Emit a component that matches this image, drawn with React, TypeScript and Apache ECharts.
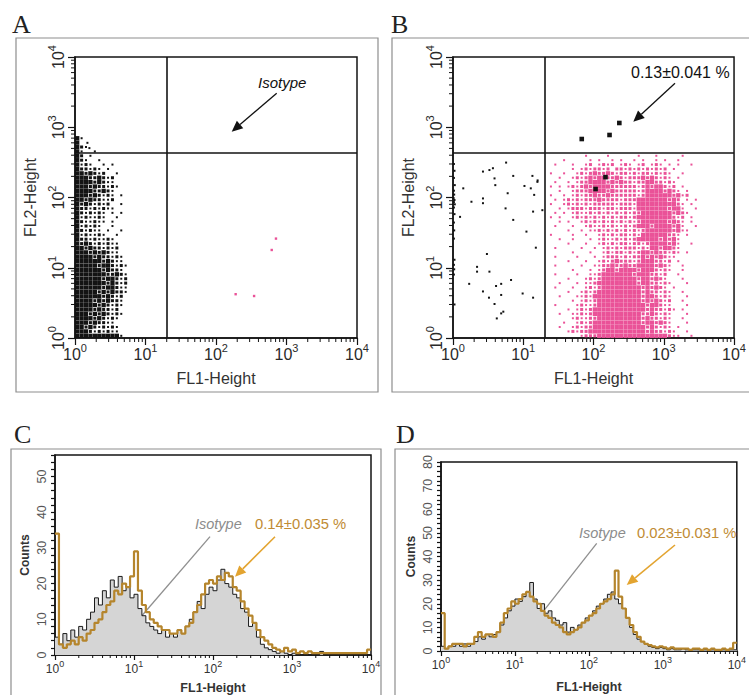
import { useEffect, useRef } from "react";
import * as echarts from "echarts";

// ---------- data ----------

const LOG_MINOR = [
  2, 3, 4, 5, 6, 7, 8, 9, 20, 30, 40, 50, 60, 70, 80, 90, 200, 300, 400, 500,
  600, 700, 800, 900, 2000, 3000, 4000, 5000, 6000, 7000, 8000, 9000,
];

// gates used in A and B (FL1, FL2)
const GATE_FL1 = 20;
const GATE_FL2 = 430;

// density maps, one char per cell of 1/16 decade: ' ' none, '.' sparse, '+' medium, '#' dense
// A: columns from log10 FL1 = 0, rows from log10 FL2 = 2.875 downwards
const A_CLOUD = [
  "#.          ",
  "#           ",
  "#+.         ",
  "#.  .       ",
  "#+ .        ",
  "#+.  .      ",
  "#.+.  . .   ",
  "#++.+. .    ",
  "##+#+.+  .  ",
  "###++#+.+   ",
  "####+#+..   ",
  "###+#++.+.  ",
  "####++#+.   ",
  "###+#+.+. . ",
  "##+#++..+   ",
  "#+#+.+.+  . ",
  "#++.+.+..   ",
  "#+.+.+. . . ",
  "#.+..+.  .  ",
  "#+..+.. .   ",
  "#.+.+.  .   ",
  "#+.+.. .  . ",
  "#.+..+.  .  ",
  "#++.+..+.   ",
  "#+#+.+.+..  ",
  "##+#++.+.+  ",
  "###+#+#+..  ",
  "####+#++.+. ",
  "######+#+.. ",
  "#####+##+.+.",
  "######+#++. ",
  "#######++#+.",
  "######+##+.+",
  "#######+#+.+",
  "######+##+..",
  "#####+#+#++.",
  "######+#+.+ ",
  "####+#+#++. ",
  "#####+#+.+. ",
  "####+#++.+  ",
  "###+#+#+.+. ",
  "####+#+.+.  ",
  "###+#++..   ",
  "##+#+.+.+.  ",
  "###+.+.+..  ",
  "##########. ",
];

// B: columns from log10 FL1 = 1.3, rows from log10 FL2 = 2.625 downwards
const B_CLOUD = [
  "         .    .      .   .     .    ",
  "    .     . .  . .  . .  . .  .     ",
  "  .   .  .+ .+.+ .+. .+ .+. . .  .  ",
  "      . .+.++.+ ++.+.+.+.+.+ .      ",
  " .  .  .+.+#++#+.++.+.++.+.+.  .    ",
  "   .  .+.+#+##++#+.+++#+#+.+. .     ",
  "  .  . .++####+#+#++.++##++.+.      ",
  " . . .+.+#+####++++++.+#+##+.+ .    ",
  "   .  .+++####+#+++++.+####+#+. .   ",
  " .  . .+.++#++#++++++.+######+#.+   ",
  "  . .+.+.+++#++++.+++#######+#+ . . ",
  " .  .+.+.+.+++++.+++.#########+. .  ",
  "   . .+++.+++.++.+++.#######+##.  . ",
  "  . . .+..+.+.+.+.+.++#######+#+.   ",
  " . .  .+.+.+.+.+.++.+########+.+ .  ",
  "   . .  .+.+.+.+.+.+.+######+#+. .  ",
  "  .   .  .+..+.+..+.+###+####+#.  . ",
  "     .  . ..+.+.+.+.+.+######+#..   ",
  " .    .  .  .+.+.++.+.######++. .   ",
  "   .  .   . .+..+.+.+#####+#+#.     ",
  "     .   .  .+.+.++.++.+####+#.  .  ",
  "  .     .  . .+.+.+++.+.##+##+.     ",
  "      .   .  .+.++.+.+##+#++.+. .   ",
  "  .    .   . .+++.+.++#+#+#+..      ",
  "     .   .  .+.+#+++.+###++.+ .     ",
  "  .     .  ..++#++#++####+#+.  .    ",
  "      .   . .+##+####+###+.+.  .    ",
  "  .    .  ..+#######+###++.+  .     ",
  "     .   .+.+########+##+#+.   .    ",
  "   .   . ..+#########+##++.+.   .   ",
  "  .   .  .+.+#########+#+#+. .      ",
  "     .  .+.+##########+#++.+.  .    ",
  "   .   ..+.###########+##+.+.   .   ",
  "      . .+.+##########+#+#+.+  .    ",
  "  .    .+..+###########+##+..   .   ",
  "     . .+.+############+#++.+. .    ",
  "   .  ..+.+###########++#+.+.   .   ",
  "      .+..++##########+#++.+.  .    ",
  "    .  .+.+###########+##+#+.   .   ",
  "   .  .+.++############+#+.+. .     ",
  "     .+.++#############+#++.+.  .   ",
  "        .+++################+..  .  ",
];

const A_UPPER_EVENTS = [[1.5, 600], [1.6, 505]];
const A_PINK_EVENTS = [[709, 26], [617, 17.9], [190, 4.2], [347, 3.96]];

const B_LOW_EVENTS = [
  [1.4, 135], [1.83, 87], [2.67, 234], [2.67, 97], [2.67, 83], [3.3, 246],
  [3.7, 261], [3.9, 187], [4.0, 150], [5.7, 314], [6.0, 115], [5.6, 70],
  [7.2, 203], [7.2, 48], [10.4, 146], [12.8, 135], [13.5, 203], [14.3, 109],
  [13.8, 63], [15.9, 167], [16, 175], [18.7, 66], [15.1, 19.3], [11.1, 32.7],
  [3.04, 15.7], [2.2, 10.3], [2.2, 8.8], [3.3, 8.8], [1.7, 5.9], [2.67, 4.6],
  [3.25, 3.75], [4.1, 5.5], [4.85, 5.9], [4.85, 4.1], [6.7, 6.7], [9.8, 4.3],
  [13.8, 3.75], [3.9, 3.05], [4.85, 2.24], [5.2, 2.37], [4.2, 1.9], [1.26, 53],
  [1.03, 300], [1.05, 240], [1.03, 190], [1.06, 150], [1.03, 125], [1.04, 110],
  [1.02, 98], [1.05, 92], [1.03, 86], [1.06, 80], [1.03, 72], [1.05, 58],
  [1.03, 44], [1.04, 34], [1.03, 26], [1.05, 13], [1.03, 11], [1.04, 9.5],
  [1.03, 8], [1.05, 3],
];
const B_GATED_EVENTS = [[68, 680], [169, 776], [233, 1150], [107, 132], [148, 195]];

// histograms, bins of 0.05 decade starting at 10^0
const C_ISOTYPE = [
  5, 3, 6, 4, 7, 5, 8, 7, 10, 12,
  16, 14, 18, 16, 21, 19, 22, 18, 19, 16,
  17, 13, 11, 9, 8, 7, 6, 7, 5, 6,
  5, 7, 6, 8, 10, 12, 15, 13, 17, 19,
  18, 21, 24, 20, 19, 17, 16, 13, 12, 8,
  9, 5, 3, 2, 1.5, 1, 0.5, 1, 0.5, 0,
  0.5, 0, 0, 0, 0, 0, 0, 1, 0, 0,
  0, 0, 0, 0, 0, 0, 0, 0, 0, 0,
];
const C_SAMPLE = [
  34, 3, 2, 3, 4, 3, 5, 4, 6, 7,
  9, 10, 12, 14, 15, 18, 17, 20, 19, 22,
  29, 18, 14, 12, 10, 9, 8, 7, 7, 6,
  6, 7, 6, 8, 9, 12, 14, 17, 20, 21,
  20, 22, 21, 23, 22, 19, 18, 15, 13, 11,
  9, 7, 5, 4, 3, 2, 1.5, 1, 2, 1,
  1.5, 0.5, 1, 0.5, 1, 0.5, 0.5, 0.5, 0.5, 0.5,
  0.5, 0.5, 0.5, 0.5, 0.5, 0.5, 0.5, 0.5, 0.5, 1.5,
];
const D_ISOTYPE = [
  2, 1, 2, 2, 3, 2, 3, 2, 3, 4,
  6, 5, 7, 6, 7, 8, 11, 14, 17, 19,
  22, 21, 23, 25, 29, 22, 18, 20, 16, 17,
  14, 13, 11, 12, 8, 10, 9, 11, 12, 14,
  15, 17, 19, 20, 22, 24, 25, 22, 20, 18,
  14, 10, 7, 5, 4, 3, 2, 1.5, 1, 1.5,
  1, 0.5, 1, 0.5, 0.5, 1, 0.5, 0.5, 0.5, 0.5,
  0.5, 0.5, 0.5, 0.5, 0.5, 0.5, 0.5, 0.5, 0.5, 0.5,
];
const D_SAMPLE = [
  16, 1, 2, 3, 3, 3, 2, 3, 3, 6,
  8, 6, 7, 7, 6, 8, 12, 16, 18, 21,
  20, 22, 24, 25, 23, 21, 20, 17, 15, 14,
  12, 11, 10, 8, 7, 8, 9, 10, 12, 13,
  15, 16, 18, 20, 21, 22, 24, 34, 23, 18,
  14, 11, 8, 6, 4, 3, 2.5, 2, 1.5, 2,
  1.5, 1, 1.5, 1, 1, 1, 1, 0.5, 1, 1,
  0.5, 1, 0.5, 1, 0.5, 0.5, 1, 0.5, 1, 3.5,
];
const HIST_STEP = 0.05;

// ---------- styling ----------

const FONT = "'Liberation Sans', Arial, Helvetica, sans-serif";
const INK = "#131313";
const PINK = "#ea5298";
const GOLD_LINE = "#b5852c";
const GOLD_TEXT = "#c08b34";
const GOLD_ARROW = "#e3a430";
const GREY_TEXT = "#8c8c8c";
const CELL_SIZE: Record<string, number> = { ".": 2.0, "+": 3.0, "#": 4.3 };

function cloudPoints(rows: string[], x0: number, y0: number, step: number) {
  const pts: number[][] = [];
  rows.forEach((row, r) => {
    for (let c = 0; c < row.length; c++) {
      const ch = row[c];
      if (!CELL_SIZE[ch]) continue;
      pts.push([10 ** (x0 + step * (c + 0.5)), 10 ** (y0 - step * (r + 0.5)), CELL_SIZE[ch]]);
    }
  });
  return pts;
}

function histData(counts: number[]) {
  const d = counts.map((c, k) => [10 ** (k * HIST_STEP), c]);
  d.push([10000, counts[counts.length - 1]]);
  return d;
}

const decadeLabel = (v: number) => `{b|10}{e|${Math.round(Math.log10(v))}}`;

function richDecade(base: number, exp: number, color: string) {
  return {
    b: { fontSize: base, fontFamily: FONT, color, lineHeight: base + 4, verticalAlign: "bottom" },
    e: { fontSize: exp, fontFamily: FONT, color, lineHeight: exp, verticalAlign: "top" },
  };
}

function logAxis(gridIndex: number, big: boolean, vertical: boolean, extra: object) {
  const color = big ? "#2a2a2a" : "#333";
  return {
    type: "log",
    logBase: 10,
    min: 1,
    max: 10000,
    gridIndex,
    axisLine: { show: true, onZero: false, lineStyle: { color: INK, width: 1.5 } },
    axisTick: { show: true, inside: false, length: big ? 7 : 5, lineStyle: { color: INK, width: 1.2 } },
    splitLine: { show: false },
    axisLabel: {
      formatter: decadeLabel,
      rich: big ? richDecade(16, 11, color) : richDecade(12, 9, color),
      rotate: vertical ? 90 : 0,
      margin: vertical ? 9 : 4,
    },
    ...extra,
  };
}

function countAxis(gridIndex: number, max: number, nameGap: number) {
  return {
    type: "value",
    min: 0,
    max,
    interval: 2,
    gridIndex,
    axisLine: { show: true, lineStyle: { color: INK, width: 1.5 } },
    axisTick: { show: true, inside: false, length: 4, lineStyle: { color: INK, width: 1.2 } },
    splitLine: { show: false },
    axisLabel: {
      rotate: 90,
      margin: 7,
      fontSize: 12.5,
      fontFamily: FONT,
      color: "#555",
      formatter: (v: number) => (v % 10 === 0 ? String(v) : ""),
    },
    name: "Counts",
    nameLocation: "middle",
    nameGap,
    nameTextStyle: { fontSize: 12, fontWeight: "bold", fontFamily: FONT, color: "#333" },
  };
}

function minorTicks(xi: number, yi: number, dir: "x" | "y", base: number, len: number) {
  return {
    type: "custom",
    xAxisIndex: xi,
    yAxisIndex: yi,
    silent: true,
    clip: false,
    z: 5,
    data: LOG_MINOR.map((v) => (dir === "x" ? [v, base] : [1, v])),
    renderItem: (_p: unknown, api: any) => {
      const p = api.coord([api.value(0), api.value(1)]);
      const shape =
        dir === "x"
          ? { x1: p[0], y1: p[1], x2: p[0], y2: p[1] + len }
          : { x1: p[0], y1: p[1], x2: p[0] - len, y2: p[1] };
      return { type: "line", shape, style: { stroke: INK, lineWidth: 1 } };
    },
  };
}

function gates() {
  return {
    silent: true,
    symbol: ["none", "none"],
    label: { show: false },
    lineStyle: { color: INK, width: 1.6, type: "solid" },
    data: [{ xAxis: GATE_FL1 }, { yAxis: GATE_FL2 }],
  };
}

function scatter(xi: number, data: number[][], color: string, size: number | ((v: number[]) => number), extra = {}) {
  return {
    type: "scatter",
    xAxisIndex: xi,
    yAxisIndex: xi,
    symbol: "rect",
    symbolSize: size,
    silent: true,
    progressive: 0,
    itemStyle: { color, opacity: 1, borderWidth: 0 },
    data,
    ...extra,
  };
}

function arrow(x1: number, y1: number, x2: number, y2: number, color: string, w: number, head: number) {
  const a = Math.atan2(y2 - y1, x2 - x1);
  const bx = x2 - head * Math.cos(a);
  const by = y2 - head * Math.sin(a);
  const hw = head * 0.45;
  return [
    { type: "line", shape: { x1, y1, x2: bx, y2: by }, style: { stroke: color, lineWidth: w } },
    {
      type: "polygon",
      shape: {
        points: [
          [x2, y2],
          [bx + hw * Math.sin(a), by - hw * Math.cos(a)],
          [bx - hw * Math.sin(a), by + hw * Math.cos(a)],
        ],
      },
      style: { fill: color },
    },
  ];
}

function label(text: string, x: number, y: number, size: number, color: string, extra = {}) {
  return {
    type: "text",
    x,
    y,
    style: { text, fontSize: size, fontFamily: FONT, fill: color, verticalAlign: "middle", ...extra },
  };
}

function panelBox(x: number, y: number, w: number, h: number) {
  return {
    type: "rect",
    shape: { x, y, width: w, height: h },
    style: { fill: "none", stroke: "#8e8e8e", lineWidth: 1.2 },
  };
}

function letter(text: string, x: number, y: number) {
  return {
    type: "text",
    x,
    y,
    style: { text, fontSize: 26, fontFamily: "'Liberation Serif', 'Times New Roman', serif", fill: "#222", verticalAlign: "middle" },
  };
}

function buildOption() {
  const frame = { show: true, borderColor: INK, borderWidth: 1.5, backgroundColor: "transparent" };
  const histIso = (i: number, d: number[]) => ({
    type: "line",
    xAxisIndex: i,
    yAxisIndex: i,
    step: "end",
    symbol: "none",
    silent: true,
    z: 2,
    lineStyle: { color: "#1a1a1a", width: 1 },
    areaStyle: { color: "#d5d5d5", opacity: 1 },
    data: histData(d),
  });
  const histSample = (i: number, d: number[]) => ({
    type: "line",
    xAxisIndex: i,
    yAxisIndex: i,
    step: "end",
    symbol: "none",
    silent: true,
    z: 3,
    lineStyle: { color: GOLD_LINE, width: 2.2 },
    data: histData(d),
  });

  return {
    animation: false,
    backgroundColor: "#fff",
    textStyle: { fontFamily: FONT },
    grid: [
      { left: 75, top: 57, width: 282, height: 281, ...frame },
      { left: 453, top: 57, width: 284, height: 281, ...frame },
      { left: 55, top: 455, width: 316, height: 200, ...frame },
      { left: 441, top: 462, width: 299, height: 189, ...frame },
    ],
    xAxis: [0, 1, 2, 3].map((i) =>
      logAxis(i, i < 2, false, {
        name: "FL1-Height",
        nameLocation: "middle",
        nameGap: i < 2 ? 32 : i === 2 ? 26 : 29,
        nameTextStyle:
          i < 2
            ? { fontSize: 16, fontFamily: FONT, color: "#333" }
            : { fontSize: 12.5, fontWeight: "bold", fontFamily: FONT, color: "#333" },
      }),
    ),
    yAxis: [
      logAxis(0, true, true, {
        name: "FL2-Height",
        nameLocation: "middle",
        nameGap: 37,
        nameTextStyle: { fontSize: 16, fontFamily: FONT, color: "#333" },
      }),
      logAxis(1, true, true, {
        name: "FL2-Height",
        nameLocation: "middle",
        nameGap: 37,
        nameTextStyle: { fontSize: 16, fontFamily: FONT, color: "#333" },
      }),
      countAxis(2, 56, 24),
      countAxis(3, 80, 24),
    ],
    series: [
      scatter(0, cloudPoints(A_CLOUD, 0, 2.875, 0.0625), INK, (v: number[]) => v[2], { markLine: gates() }),
      scatter(0, A_UPPER_EVENTS, INK, 2),
      scatter(0, A_PINK_EVENTS, PINK, 2.4),
      scatter(1, cloudPoints(B_CLOUD, 1.3, 2.625, 0.0625), PINK, (v: number[]) => v[2], { markLine: gates() }),
      scatter(1, B_LOW_EVENTS, INK, 2),
      scatter(1, B_GATED_EVENTS, INK, 4.6, { z: 4 }),
      histIso(2, C_ISOTYPE),
      histSample(2, C_SAMPLE),
      histIso(3, D_ISOTYPE),
      histSample(3, D_SAMPLE),
      minorTicks(0, 0, "x", 1, 4),
      minorTicks(0, 0, "y", 1, 4),
      minorTicks(1, 1, "x", 1, 4),
      minorTicks(1, 1, "y", 1, 4),
      minorTicks(2, 2, "x", 0, 3),
      minorTicks(3, 3, "x", 0, 3),
    ],
    graphic: [
      panelBox(16, 38, 362, 354),
      panelBox(392, 38, 380, 354),
      panelBox(11, 449, 370, 260),
      panelBox(395, 449, 380, 260),
      letter("A", 12, 24),
      letter("B", 391, 24),
      letter("C", 14, 434),
      letter("D", 396, 434),
      label("Isotype", 258, 82, 15, "#111", { fontStyle: "italic" }),
      ...arrow(276.7, 93.3, 231.7, 131.7, "#111", 1.3, 11),
      label("0.13\u00b10.041 %", 631, 72, 16, "#111"),
      ...arrow(675, 83.3, 633.3, 121.7, "#111", 1.3, 11),
      label("Isotype", 195, 524, 14.5, GREY_TEXT, { fontStyle: "italic" }),
      label("0.14\u00b10.035 %", 255, 524, 14.8, GOLD_TEXT),
      ...arrow(210, 536.7, 126.7, 633.3, "#8f8f8f", 1.3, 11),
      ...arrow(275, 536.7, 235, 576.7, GOLD_ARROW, 1.6, 11),
      label("Isotype", 579, 533, 14.5, GREY_TEXT, { fontStyle: "italic" }),
      label("0.023\u00b10.031 %", 637, 533, 14.8, GOLD_TEXT),
      ...arrow(596.7, 543.3, 523.3, 636.7, "#8f8f8f", 1.3, 11),
      ...arrow(675, 545, 626.7, 585, GOLD_ARROW, 1.6, 11),
    ],
  };
}

export default function App() {
  const ref = useRef<HTMLDivElement>(null);

  useEffect(() => {
    if (!ref.current) return;
    const chart = echarts.init(ref.current, undefined, { renderer: "svg" });
    chart.setOption(buildOption() as any);
    return () => chart.dispose();
  }, []);

  return (
    <div
      ref={ref}
      role="img"
      aria-label="Flow cytometry dot plots and FL1 histograms"
      style={{ position: "absolute", left: 0, top: 0, width: 749, height: 695, background: "#fff" }}
    />
  );
}
